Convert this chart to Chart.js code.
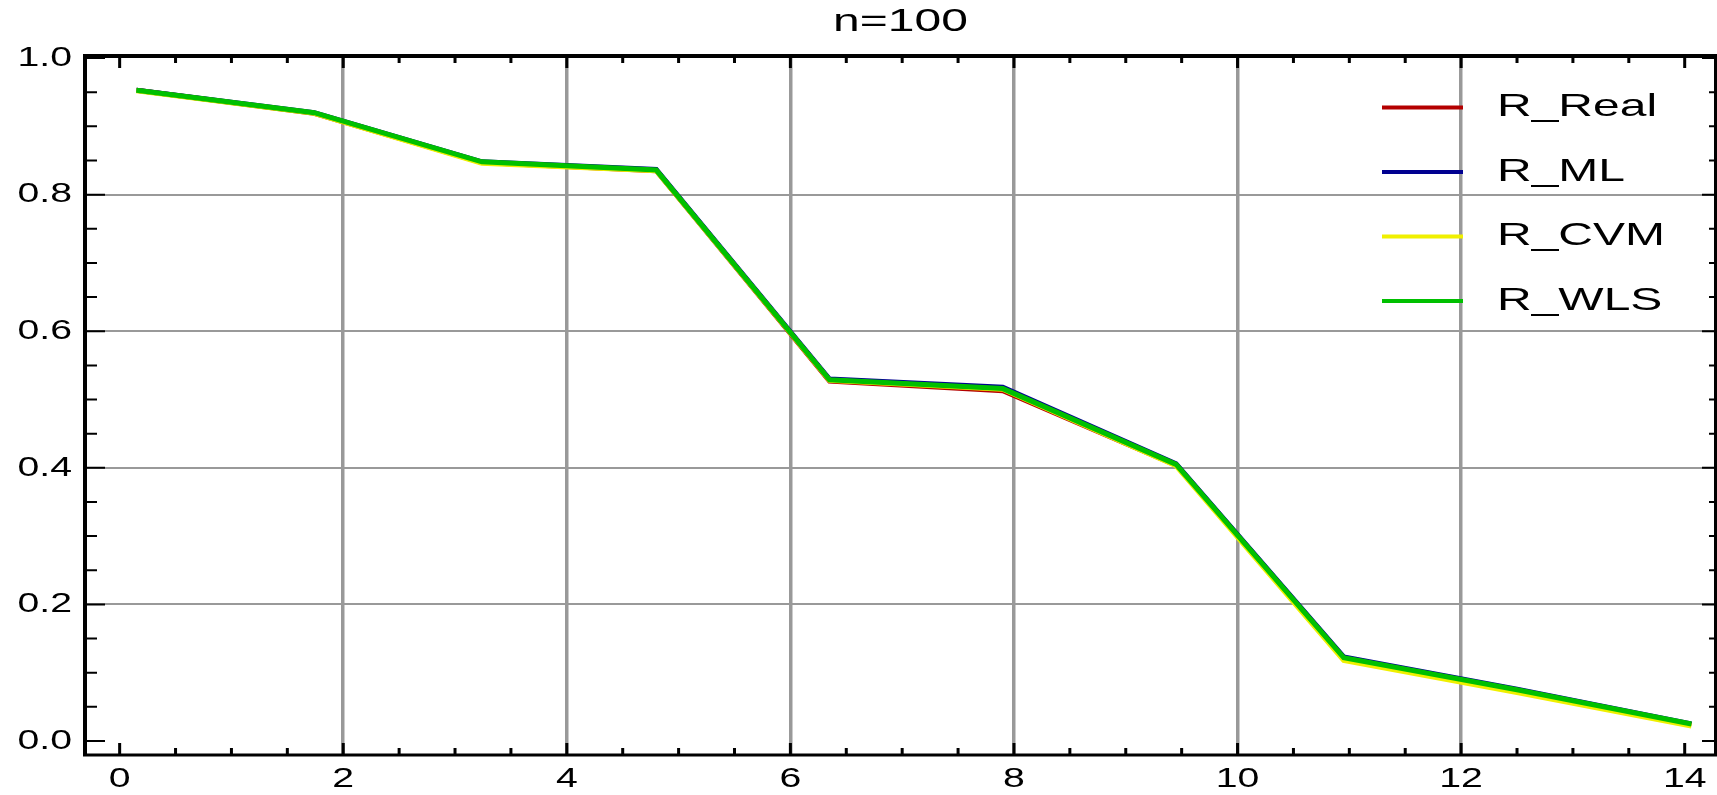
<!DOCTYPE html>
<html>
<head>
<meta charset="utf-8">
<title>n=100</title>
<script src="https://cdn.jsdelivr.net/npm/chart.js@4.4.1/dist/chart.umd.min.js"></script>
<style>
  html, body { margin: 0; padding: 0; background: #fff; }
  #wrap { width: 1717px; height: 795px; }
</style>
</head>
<body>
<div id="wrap"><canvas id="relChart"></canvas></div>
<script>
// time points and reliability estimates for each method
var tPoints = [0.15, 1.74, 3.24, 4.8, 6.35, 7.9, 9.45, 10.95, 12.5, 14.06];
var rReal = [0.953, 0.919, 0.847, 0.835, 0.527, 0.513, 0.404, 0.121, 0.074, 0.024];
var rML   = [0.953, 0.920, 0.848, 0.837, 0.530, 0.518, 0.406, 0.123, 0.076, 0.025];
var rCVM  = [0.952, 0.919, 0.846, 0.835, 0.528, 0.515, 0.403, 0.118, 0.071, 0.022];
var rWLS  = [0.953, 0.920, 0.848, 0.836, 0.529, 0.516, 0.405, 0.122, 0.075, 0.025];

var seriesNames = ['R_Real', 'R_ML', 'R_CVM', 'R_WLS'];
var seriesColors = ['#b40000', '#000090', '#f0f000', '#00c000'];

var xTicks = [0, 2, 4, 6, 8, 10, 12, 14];
var yTicks = [0.0, 0.2, 0.4, 0.6, 0.8, 1.0];
var chartTitle = 'n=100';

var FONT = "'Liberation Sans', Arial, sans-serif";

function toPoints(ys) {
    return tPoints.map(function (t, i) { return { x: t, y: ys[i] }; });
}

// text in this plot is set wide, so draw it with a horizontal stretch
function wideText(ctx, text, x, y, align, sx) {
    ctx.save();
    ctx.translate(x, y);
    ctx.scale(sx, 1);
    ctx.textAlign = align;
    ctx.textBaseline = 'middle';
    ctx.fillText(text, 0, 0);
    ctx.restore();
}

// boxed frame with inward ticks on all four sides
var frameTicks = {
    id: 'frameTicks',
    afterDatasetsDraw: function (chart) {
        var ctx = chart.ctx, a = chart.chartArea;
        var xs = chart.scales.x, ys = chart.scales.y;
        var i, p, major;
        ctx.save();
        ctx.strokeStyle = '#000';

        ctx.lineWidth = 3;
        for (i = Math.ceil(xs.min * 2); i <= Math.floor(xs.max * 2); i++) {
            p = xs.getPixelForValue(i / 2);
            major = i % 4 === 0;
            ctx.beginPath();
            ctx.moveTo(p, a.bottom);
            ctx.lineTo(p, a.bottom - (major ? 12 : 7));
            ctx.moveTo(p, a.top);
            ctx.lineTo(p, a.top + (major ? 12 : 7));
            ctx.stroke();
        }

        ctx.lineWidth = 2;
        for (i = Math.ceil(ys.min * 20); i <= Math.floor(ys.max * 20); i++) {
            p = ys.getPixelForValue(i / 20);
            major = i % 4 === 0;
            ctx.beginPath();
            ctx.moveTo(a.left, p);
            ctx.lineTo(a.left + (major ? 20 : 12), p);
            ctx.moveTo(a.right, p);
            ctx.lineTo(a.right - (major ? 14 : 7), p);
            ctx.stroke();
        }

        ctx.lineWidth = 4;
        ctx.beginPath();
        ctx.moveTo(a.left, a.bottom);
        ctx.lineTo(a.left, a.top);
        ctx.lineTo(a.right, a.top);
        ctx.lineTo(a.right, a.bottom);
        ctx.stroke();
        ctx.lineWidth = 3;
        ctx.beginPath();
        ctx.moveTo(a.left - 2, a.bottom);
        ctx.lineTo(a.right + 2, a.bottom);
        ctx.stroke();
        ctx.restore();
    }
};

// title, tick labels and the line legend
var plotText = {
    id: 'plotText',
    afterDraw: function (chart) {
        var ctx = chart.ctx, a = chart.chartArea;
        var xs = chart.scales.x, ys = chart.scales.y;
        ctx.save();
        ctx.fillStyle = '#000';

        ctx.font = '32px ' + FONT;
        wideText(ctx, chartTitle, (a.left + a.right) / 2, 22, 'center', 1.5);

        ctx.font = '28px ' + FONT;
        yTicks.forEach(function (v) {
            wideText(ctx, v.toFixed(1), a.left - 13, ys.getPixelForValue(v), 'right', 1.4);
        });
        xTicks.forEach(function (v) {
            wideText(ctx, String(v), xs.getPixelForValue(v), a.bottom + 24, 'center', 1.4);
        });

        var x0 = a.right - 334, x1 = a.right - 253, tx = a.right - 219;
        ctx.font = '32px ' + FONT;
        chart.data.datasets.forEach(function (ds, i) {
            var y = a.top + 51.5 + i * 64.5;
            ctx.strokeStyle = ds.borderColor;
            ctx.lineWidth = 4;
            ctx.beginPath();
            ctx.moveTo(x0, y);
            ctx.lineTo(x1, y);
            ctx.stroke();
            ctx.fillStyle = '#000';
            wideText(ctx, ds.label, tx, y, 'left', 1.5);
        });
        ctx.restore();
    }
};

function innerGrid(ticks) {
    return function (c) {
        var v = c.tick ? c.tick.value : null;
        if (v === ticks[0] || v === ticks[ticks.length - 1]) return 'rgba(0,0,0,0)';
        return '#999999';
    };
}

var seriesValues = [rReal, rML, rCVM, rWLS];

new Chart(document.getElementById('relChart'), {
    type: 'line',
    data: {
        datasets: seriesNames.map(function (name, i) {
            return {
                label: name,
                data: toPoints(seriesValues[i]),
                borderColor: seriesColors[i],
                backgroundColor: seriesColors[i],
                borderWidth: 5,
                pointRadius: 0,
                tension: 0,
                fill: false,
                order: seriesNames.length - i
            };
        })
    },
    options: {
        responsive: true,
        maintainAspectRatio: false,
        animation: false,
        layout: { padding: { left: 0, right: 1, top: 56, bottom: 0 } },
        plugins: {
            legend: { display: false },
            tooltip: { enabled: false },
            title: { display: false }
        },
        scales: {
            x: {
                type: 'linear',
                min: -0.31,
                max: 14.28,
                afterBuildTicks: function (s) {
                    s.ticks = xTicks.map(function (v) { return { value: v }; });
                },
                afterFit: function (s) { s.height = 40; },
                border: { display: false },
                grid: { color: innerGrid(xTicks), lineWidth: 3.5, drawTicks: false },
                ticks: { display: false }
            },
            y: {
                min: -0.0205,
                max: 1.003,
                afterBuildTicks: function (s) {
                    s.ticks = yTicks.map(function (v) { return { value: v }; });
                },
                afterFit: function (s) { s.width = 85; },
                border: { display: false },
                grid: { color: innerGrid(yTicks), lineWidth: 2, drawTicks: false },
                ticks: { display: false }
            }
        }
    },
    plugins: [frameTicks, plotText]
});
</script>
</body>
</html>
